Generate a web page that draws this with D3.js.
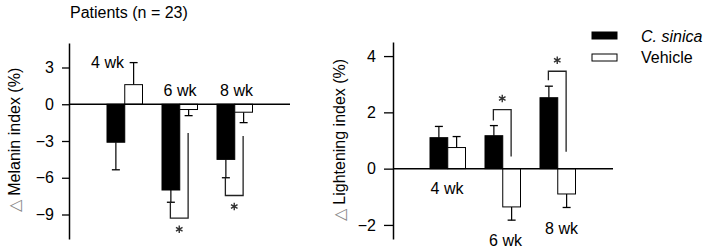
<!DOCTYPE html>
<html lang="en">
<head>
  <meta charset="UTF-8">
  <title>Melanin / Lightening index</title>
  <script src="https://d3js.org/d3.v7.min.js"></script>
  <style>
    body { margin: 0; background: #fff; }
    text { font-family: Arial, "Liberation Sans", sans-serif; fill: #000; }
  </style>
</head>
<body>
  <div id="chart"></div>

  <script>
    // data
    const weeks = ["4 wk", "6 wk", "8 wk"];
    const groups = ["C. sinica", "Vehicle"];

    // left panel: change of melanin index (%)
    const melaninSinica = [-3.1, -7.0, -4.5];
    const melaninSinicaErr = [2.25, 1.0, 1.5];
    const melaninVehicle = [1.6, -0.43, -0.65];
    const melaninVehicleErr = [1.8, 0.5, 0.85];
    const melaninTicks = [3, 0, -3, -6, -9];

    // right panel: change of lightening index (%)
    const lightSinica = [1.1, 1.17, 2.52];
    const lightSinicaErr = [0.4, 0.36, 0.41];
    const lightVehicle = [0.75, -1.36, -0.9];
    const lightVehicleErr = [0.39, 0.47, 0.48];
    const lightTicks = [4, 2, 0, -2];

    // significance brackets (value units)
    const melaninSig = [
      { week: "6 wk", from: -8.0, low: -9.3, top: -2.35 },
      { week: "8 wk", from: -6.0, low: -7.45, top: -2.6 }
    ];
    const lightSig = [
      { week: "6 wk", from: 1.71, high: 2.1, bottom: 0.43 },
      { week: "8 wk", from: 3.14, high: 3.46, bottom: 0.6 }
    ];

    const W = 709, H = 249;
    const svg = d3.select("#chart").append("svg")
      .attr("width", W).attr("height", H);

    function rows(a, ae, b, be) {
      return weeks.map((w, i) => ({
        week: w,
        bars: [
          { g: groups[0], v: a[i], e: ae[i] },
          { g: groups[1], v: b[i], e: be[i] }
        ]
      }));
    }

    function panel(opt) {
      const y = d3.scaleLinear().domain(opt.domain).range([239, opt.top]);
      const x = d3.scaleBand().domain(weeks).range(opt.xRange);
      const xs = d3.scaleBand().domain(groups).range([x.bandwidth() / 2 - 18, x.bandwidth() / 2 + 17.5]);

      const g = svg.append("g");

      // y axis
      const ax = g.append("g")
        .attr("transform", `translate(${opt.axisX},0)`)
        .call(d3.axisLeft(y).tickValues(opt.ticks).tickSize(opt.tickSize)
          .tickSizeOuter(0).tickPadding(opt.tickPad).tickFormat(d3.format("d")));
      ax.select(".domain").attr("stroke-width", 1.5);
      ax.selectAll(".tick line").attr("stroke-width", 1.3);
      ax.selectAll(".tick text").style("font-size", "16px")
        .style("font-family", "Arial, 'Liberation Sans', sans-serif");

      // bars
      const grp = g.selectAll(".grp").data(opt.data).enter().append("g")
        .attr("transform", d => `translate(${x(d.week)},0)`);

      const bar = grp.selectAll(".bar").data(d => d.bars).enter().append("g");

      // error bars (drawn first, bar covers the stem)
      bar.append("line")
        .attr("x1", d => xs(d.g) + xs.bandwidth() / 2)
        .attr("x2", d => xs(d.g) + xs.bandwidth() / 2)
        .attr("y1", d => y(d.v))
        .attr("y2", d => y(d.v + Math.sign(d.v) * d.e))
        .attr("stroke", "#000").attr("stroke-width", 1.2);
      bar.append("line")
        .attr("x1", d => xs(d.g) + xs.bandwidth() / 2 - 4)
        .attr("x2", d => xs(d.g) + xs.bandwidth() / 2 + 4)
        .attr("y1", d => y(d.v + Math.sign(d.v) * d.e))
        .attr("y2", d => y(d.v + Math.sign(d.v) * d.e))
        .attr("stroke", "#000").attr("stroke-width", 1.3);

      bar.append("rect")
        .attr("x", d => xs(d.g))
        .attr("width", xs.bandwidth())
        .attr("y", d => Math.min(y(d.v), y(0)))
        .attr("height", d => Math.abs(y(d.v) - y(0)))
        .attr("fill", d => d.g === groups[0] ? "#000" : "#fff")
        .attr("stroke", "#000").attr("stroke-width", 1);

      // zero line
      g.append("line")
        .attr("x1", opt.axisX).attr("x2", opt.zeroEnd)
        .attr("y1", y(0)).attr("y2", y(0))
        .attr("stroke", "#000").attr("stroke-width", 1.5);

      // week labels
      opt.labels.forEach(l => {
        g.append("text")
          .attr("x", x(l.week) + x.bandwidth() / 2 + l.dx)
          .attr("y", y(l.at))
          .attr("text-anchor", l.anchor || "middle")
          .style("font-size", "16px")
          .text(l.week);
      });

      // significance brackets
      const cx = (w, gname) => x(w) + xs(gname) + xs.bandwidth() / 2;
      opt.sig.forEach(s => {
        const x1 = cx(s.week, groups[0]) - 0.5, x2 = cx(s.week, groups[1]) - 0.5;
        const yEnd = s.low !== undefined ? s.low : s.high;
        const yOther = s.low !== undefined ? s.top : s.bottom;
        g.append("path")
          .attr("d", d3.line()([[x1, y(s.from)], [x1, y(yEnd)], [x2, y(yEnd)], [x2, y(yOther)]]))
          .attr("fill", "none").attr("stroke", "#222").attr("stroke-width", 1.3);
        const sy = y(yEnd) + (s.low !== undefined ? 11 : -11);
        g.append("path")
          .attr("transform", `translate(${(x1 + x2) / 2},${sy})`)
          .attr("d", d3.symbol(d3.symbolAsterisk, 40)())
          .attr("fill", "none").attr("stroke", "#333").attr("stroke-width", 1.4);
      });

      // y label
      const lab = g.append("text")
        .attr("transform", `translate(${opt.labelX},140) rotate(-90)`)
        .attr("text-anchor", "middle")
        .style("font-size", "16px");
      lab.append("tspan").attr("fill", "#888").style("fill", "#888").text("\u25B3 ");
      lab.append("tspan").text(opt.title);
    }

    panel({
      data: rows(melaninSinica, melaninSinicaErr, melaninVehicle, melaninVehicleErr),
      domain: [-11, 5], top: 43, ticks: melaninTicks,
      xRange: [97.5, 262.5], axisX: 69, zeroEnd: 290,
      tickSize: 7, tickPad: 8, labelX: 20,
      title: "Melanin index (%)",
      sig: melaninSig,
      labels: [
        { week: "4 wk", dx: -1, at: 3.0, anchor: "end" },
        { week: "6 wk", dx: 0, at: 0.67 },
        { week: "8 wk", dx: 1.5, at: 0.67 }
      ]
    });

    panel({
      data: rows(lightSinica, lightSinicaErr, lightVehicle, lightVehicleErr),
      domain: [-2.5, 4.5], top: 42, ticks: lightTicks,
      xRange: [420.5, 585.5], axisX: 393, zeroEnd: 613,
      tickSize: 9, tickPad: 8, labelX: 345,
      title: "Lightening index (%)",
      sig: lightSig,
      labels: [
        { week: "4 wk", dx: -1, at: -0.9 },
        { week: "6 wk", dx: 2.5, at: -2.75 },
        { week: "8 wk", dx: 3.5, at: -2.32 }
      ]
    });

    // title
    svg.append("text").attr("x", 70).attr("y", 18)
      .style("font-size", "16px").text("Patients (n = 23)");

    // legend
    const leg = svg.append("g").attr("transform", "translate(592,0)");
    groups.forEach((name, i) => {
      leg.append("rect")
        .attr("x", 0).attr("y", 32 + i * 22).attr("width", 25).attr("height", 7)
        .attr("fill", i === 0 ? "#000" : "#fff").attr("stroke", "#000").attr("stroke-width", 1);
      leg.append("text")
        .attr("x", 49).attr("y", 42 + i * 21)
        .style("font-size", "16px")
        .style("font-style", i === 0 ? "italic" : "normal")
        .text(name);
    });
  </script>
</body>
</html>
